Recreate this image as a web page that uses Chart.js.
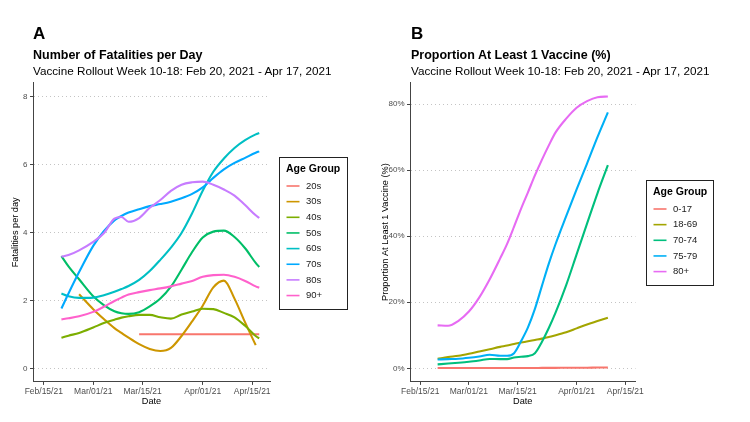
<!DOCTYPE html>
<html>
<head>
<meta charset="utf-8">
<script src="https://cdn.jsdelivr.net/npm/chart.js@4"></script>
<style>
  body { margin: 0; background: #fff; }
  #wrap { position: relative; width: 750px; height: 422px; font-family: "Liberation Sans", Arial, sans-serif; color: #000; }
  canvas { position: absolute; top: 0; }
  .tag, .ttl, .sub { position: absolute; line-height: 1; white-space: nowrap; }
  .tag { font-size: 17px; font-weight: bold; top: 25px; }
  .ttl { font-size: 12.5px; font-weight: bold; top: 48.9px; }
  .sub { font-size: 11.7px; top: 64.7px; }
</style>
</head>
<body>
<div id="wrap">
  <canvas id="chartA" width="375" height="422" style="left:0"></canvas>
  <canvas id="chartB" width="375" height="422" style="left:375px"></canvas>
  <div class="tag" style="left:33px">A</div>
  <div class="ttl" style="left:33px">Number of Fatalities per Day</div>
  <div class="sub" style="left:33px">Vaccine Rollout Week 10-18: Feb 20, 2021 - Apr 17, 2021</div>
  <div class="tag" style="left:411px">B</div>
  <div class="ttl" style="left:411px">Proportion At Least 1 Vaccine (%)</div>
  <div class="sub" style="left:411px">Vaccine Rollout Week 10-18: Feb 20, 2021 - Apr 17, 2021</div>
</div>
<script>
// x = days since Feb 15, 2021
const tickDays = [0, 14, 28, 45, 59];
const tickLabels = ["Feb/15/21", "Mar/01/21", "Mar/15/21", "Apr/01/21", "Apr/15/21"];

// panel A: fatalities per day
const daysA = [5, 7, 10, 14, 17, 20, 22, 24, 27, 30, 33, 36, 39, 42, 45, 48, 51, 54, 57, 60, 61];
const groupsA = ["20s", "30s", "40s", "50s", "60s", "70s", "80s", "90+"];
const colorsA = ["#F8766D", "#CD9600", "#7CAE00", "#00BE67", "#00BFC4", "#00A9FF", "#C77CFF", "#FF61CC"];
const deaths20s = [null, null, null, null, null, null, null, null, 1, 1, 1, 1, 1, 1, 1, 1, 1, 1, 1, 1, 1];
const deaths30s = [null, null, 2.18, 1.74, 1.45, 1.18, 1.04, 0.9, 0.71, 0.57, 0.51, 0.6, 0.95, 1.38, 1.84, 2.38, 2.58, 2.05, 1.35, 0.68, null];
const deaths40s = [0.9, 0.96, 1.04, 1.2, 1.33, 1.43, 1.49, 1.53, 1.57, 1.57, 1.5, 1.46, 1.58, 1.67, 1.75, 1.74, 1.63, 1.5, 1.25, 0.95, 0.88];
const deaths50s = [3.3, 3.0, 2.62, 2.12, 1.86, 1.68, 1.62, 1.6, 1.65, 1.82, 2.05, 2.4, 2.9, 3.42, 3.85, 4.02, 4.05, 3.86, 3.53, 3.1, 2.98];
const deaths60s = [2.2, 2.12, 2.07, 2.08, 2.15, 2.25, 2.33, 2.42, 2.6, 2.86, 3.19, 3.55, 3.98, 4.56, 5.22, 5.78, 6.17, 6.48, 6.71, 6.88, 6.92];
const deaths70s = [1.76, 2.2, 2.83, 3.6, 4.03, 4.35, 4.48, 4.58, 4.68, 4.77, 4.83, 4.9, 5.0, 5.13, 5.32, 5.6, 5.85, 6.04, 6.19, 6.34, 6.38];
const deaths80s = [3.28, 3.33, 3.47, 3.72, 3.97, 4.4, 4.45, 4.31, 4.42, 4.72, 4.95, 5.22, 5.4, 5.47, 5.49, 5.4, 5.26, 5.08, 4.8, 4.5, 4.42];
const deaths90p = [1.44, 1.47, 1.53, 1.66, 1.81, 1.98, 2.08, 2.17, 2.24, 2.3, 2.35, 2.41, 2.49, 2.57, 2.69, 2.74, 2.75, 2.69, 2.57, 2.41, 2.37];
const yTicksA = [0, 2, 4, 6, 8];

// panel B: proportion with at least 1 dose (%)
const daysB = [5, 8, 11, 14, 17, 20, 23, 25, 27, 29, 31, 33, 35, 37, 39, 42, 45, 48, 51, 54];
const groupsB = ["0-17", "18-69", "70-74", "75-79", "80+"];
const colorsB = ["#F8766D", "#A3A500", "#00BF7D", "#00B0F6", "#E76BF3"];
const vax0to17 = [0.1, 0.1, 0.1, 0.1, 0.1, 0.1, 0.1, 0.1, 0.1, 0.1, 0.1, 0.1, 0.15, 0.15, 0.15, 0.2, 0.2, 0.2, 0.25, 0.25];
const vax18to69 = [2.9, 3.4, 3.8, 4.4, 5.1, 5.8, 6.5, 6.9, 7.4, 7.8, 8.2, 8.6, 9.0, 9.5, 10.0, 10.9, 12.1, 13.3, 14.3, 15.3];
const vax70to74 = [1.2, 1.45, 1.7, 2.0, 2.4, 2.85, 2.8, 2.8, 3.3, 3.5, 3.7, 4.6, 8.0, 12.2, 17.0, 25.2, 34.5, 43.8, 53.0, 61.5];
const vax75to79 = [2.7, 2.8, 2.9, 3.2, 3.6, 4.1, 3.8, 3.8, 4.6, 8.2, 12.4, 18.0, 24.9, 31.7, 37.8, 46.1, 54.2, 62.0, 70.0, 77.5];
const vax80plus = [13, 12.9, 14.4, 17.2, 21.5, 27, 33.3, 37.7, 42.9, 48.3, 53.3, 58.4, 63.1, 67.5, 71.5, 75.6, 78.9, 80.9, 82.1, 82.3];
const yTicksB = [0, 20, 40, 60, 80];

Chart.defaults.font.family = "'Liberation Sans', Arial, sans-serif";
Chart.defaults.color = "#4d4d4d";

// boxed legend, vertically centred on the plot area
const boxLegend = {
    id: "boxLegend",
    afterDraw(chart, args, opts) {
        const ctx = chart.ctx;
        const sets = chart.data.datasets;
        const h = 29 + (sets.length - 1) * 15.65 + 13;
        const top = Math.round((chart.chartArea.top + chart.chartArea.bottom) / 2 - h / 2);
        ctx.save();
        ctx.strokeStyle = "#222";
        ctx.lineWidth = 1;
        ctx.strokeRect(opts.x + 0.5, top + 0.5, opts.width, Math.round(h));
        ctx.fillStyle = "#000";
        ctx.textBaseline = "middle";
        ctx.font = "bold 10.5px 'Liberation Sans', Arial, sans-serif";
        ctx.fillText(opts.title, opts.x + 7, top + 12);
        ctx.font = "9.5px 'Liberation Sans', Arial, sans-serif";
        sets.forEach((ds, i) => {
            const y = top + 29 + i * 15.65;
            ctx.strokeStyle = ds.borderColor;
            ctx.lineWidth = 1.6;
            ctx.beginPath();
            ctx.moveTo(opts.x + 7.5, y);
            ctx.lineTo(opts.x + 20.5, y);
            ctx.stroke();
            ctx.fillStyle = "#1a1a1a";
            ctx.fillText(ds.label, opts.x + 27, y);
        });
        ctx.restore();
    },
};

const toDatasets = (labels, colors, days, series) =>
    series.map((vals, i) => ({
        label: labels[i],
        data: days.map((d, j) => ({ x: d, y: vals[j] })),
        borderColor: colors[i],
        backgroundColor: colors[i],
        borderWidth: 2.1,
        pointRadius: 0,
        cubicInterpolationMode: "monotone",
        spanGaps: false,
        order: series.length - i,
    }));

const makeOptions = (p) => ({
    responsive: false,
    animation: false,
    layout: { padding: { top: p.top, right: p.right, left: 0, bottom: 0 } },
    plugins: {
        legend: { display: false },
        tooltip: { enabled: false },
        boxLegend: { x: p.legendX, width: p.legendW, title: "Age Group" },
    },
    scales: {
        x: {
            type: "linear",
            min: p.xMin,
            max: p.xMax,
            afterBuildTicks: (scale) => {
                scale.ticks = tickDays.map((v) => ({ value: v }));
            },
            afterFit: (scale) => {
                scale.height = 40.1;
            },
            ticks: {
                autoSkip: false,
                maxRotation: 0,
                padding: 2,
                font: { size: 8.5 },
                callback: (v) => tickLabels[tickDays.indexOf(v)],
            },
            grid: { drawOnChartArea: false, drawTicks: true, tickLength: 3, tickColor: "#444" },
            border: { display: true, color: "#444", width: 1 },
            title: { display: true, text: "Date", color: "#000", font: { size: 9.2 }, padding: { top: 0, bottom: 14.8 } },
        },
        y: {
            min: p.yMin,
            max: p.yMax,
            afterBuildTicks: (scale) => {
                scale.ticks = p.yTicks.map((v) => ({ value: v }));
            },
            afterFit: (scale) => {
                scale.width = p.yWidth;
            },
            ticks: {
                padding: 2.5,
                font: { size: 8 },
                callback: p.yLabel,
            },
            grid: { color: "#c4c4c4", lineWidth: 1, drawTicks: true, tickLength: 3, tickColor: "#444" },
            border: { display: true, color: "#444", width: 1, dash: [1, 3] },
            title: { display: true, text: p.yTitle, color: "#000", font: { size: 9.2 }, padding: { top: p.yTitlePad, bottom: 0 } },
        },
    },
});

new Chart(document.getElementById("chartA"), {
    type: "line",
    data: {
        datasets: toDatasets(groupsA, colorsA, daysA, [
            deaths20s, deaths30s, deaths40s, deaths50s, deaths60s, deaths70s, deaths80s, deaths90p,
        ]),
    },
    options: makeOptions({
        top: 82.7, right: 105, xMin: -3.05, xMax: 64.05, yMin: -0.4, yMax: 8.4,
        yTicks: yTicksA, yWidth: 33, yTitle: "Fatalities per day", yTitlePad: 10.2,
        yLabel: (v) => String(v), legendX: 279, legendW: 68,
    }),
    plugins: [boxLegend],
});

new Chart(document.getElementById("chartB"), {
    type: "line",
    data: {
        datasets: toDatasets(groupsB, colorsB, daysB, [
            vax0to17, vax18to69, vax70to74, vax75to79, vax80plus,
        ]),
    },
    options: makeOptions({
        top: 82.3, right: 114.5, xMin: -2.95, xMax: 61.95, yMin: -4.1, yMax: 86.6,
        yTicks: yTicksB, yWidth: 35, yTitle: "Proportion At Least 1 Vaccine (%)", yTitlePad: 4.5,
        yLabel: (v) => v + "%", legendX: 271, legendW: 67,
    }),
    plugins: [boxLegend],
});
</script>
</body>
</html>
